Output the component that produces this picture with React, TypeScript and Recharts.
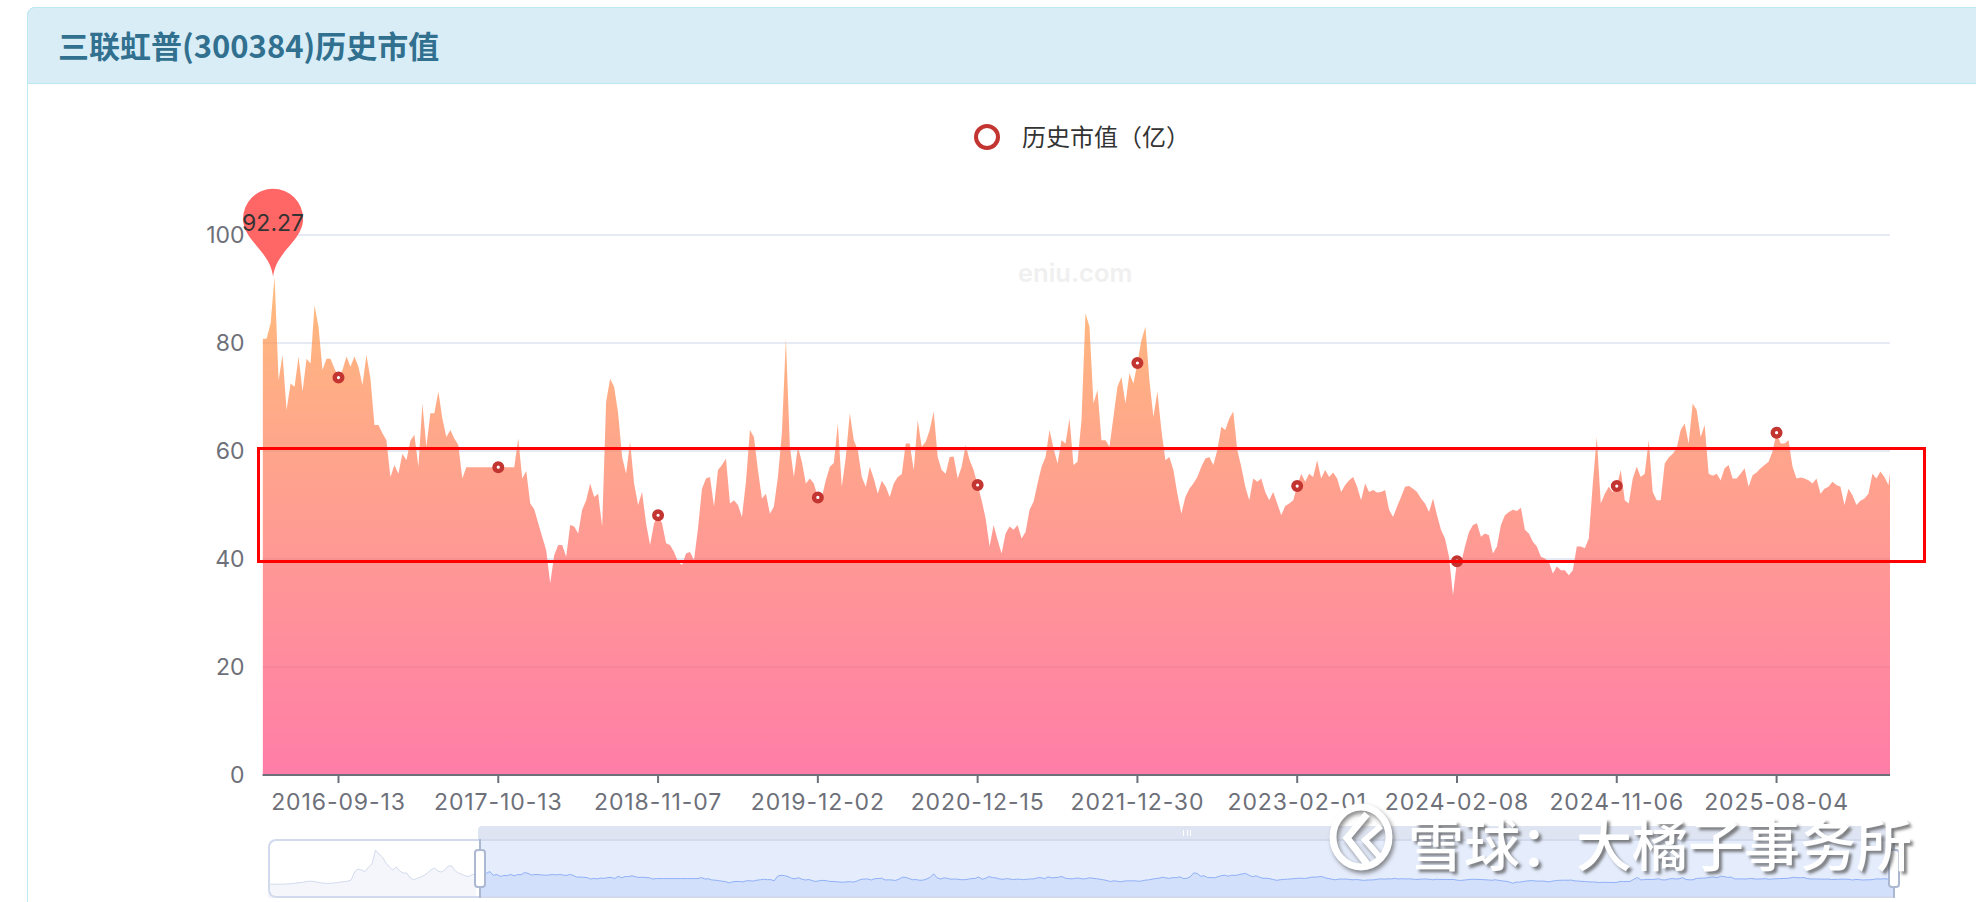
import React from "react";
import { ComposedChart, AreaChart, Area, XAxis, YAxis, CartesianGrid, ReferenceDot } from "recharts";

// tick labels and where they sit in the series
const tickDates = ["2016-09-13", "2017-10-13", "2018-11-07", "2019-12-02", "2020-12-15", "2021-12-30", "2023-02-01", "2024-02-08", "2024-11-06", "2025-08-04"];
const tickIndex = [19, 59, 99, 139, 179, 219, 259, 299, 339, 379];
const yTicks = [0, 20, 40, 60, 80, 100];

const maxIndex = 3;
const maxValue = 92.27;

// 历史市值（亿）
const marketCap = [
  80.8, 80.8, 83.6, 92.27, 73.1, 77.8, 67.6, 72.5, 71.9, 77.5, 71, 77.1, 76.2, 87, 83, 75, 77.1, 77.1, 75.3, 73.6,
  75, 77.5, 75.6, 77.5, 75.6, 72.2, 77.8, 73.4, 64.8, 64.8, 63.3, 62, 55.2, 57.4, 55.8, 59.5, 58.3, 61.9, 63, 57.1,
  68.8, 60.8, 67, 67, 71, 66, 62.6, 63.9, 62.3, 61.1, 54.9, 57, 57, 57, 57, 57, 57, 57, 57, 57,
  57, 57, 57, 57, 62.3, 54.9, 56.3, 50.3, 49.2, 46.6, 44.1, 41.6, 35.5, 40.7, 42.6, 42.6, 40.4, 46.3, 46, 44.7,
  49.1, 50.9, 54, 51.5, 52.1, 46, 69.1, 73.4, 71.9, 67, 58.9, 55.8, 61.7, 54, 50, 52.4, 46.6, 42.6, 46.6, 48.1,
  46.6, 42.9, 42.6, 41.3, 39.5, 38.9, 41, 41.3, 39.8, 45.7, 53, 54.9, 55.2, 49.7, 56.5, 57.4, 58.6, 50.3, 50.9, 50,
  47.8, 54.3, 63.9, 62.6, 56.5, 51.2, 52.1, 48.4, 49.7, 55.2, 63.3, 80.8, 60.8, 55.2, 60.8, 58, 54, 54.9, 54, 51.4,
  51.5, 54.6, 57.1, 57.8, 65.1, 53.4, 58.9, 67, 62, 60.2, 55.2, 53.4, 57.1, 54.9, 52.1, 54.5, 53.4, 51.5, 54, 55.2,
  55.7, 61.4, 61.4, 56.5, 65.7, 60.8, 61.7, 63.9, 67.3, 58.9, 56.5, 55.8, 58.9, 59, 54.9, 57.1, 61.1, 58.3, 56.5, 53.7,
  50.9, 47.5, 42.3, 46.3, 43.5, 41, 44.7, 46, 45.4, 46.3, 43.8, 45, 49.1, 50.6, 54, 57.1, 58.9, 63.9, 60.5, 57.7,
  62, 61.4, 66, 57.4, 58, 65.7, 85.5, 83, 68.8, 71.3, 62, 62, 60.8, 66.3, 71.9, 73.7, 68.8, 74.4, 72.5, 76.3,
  80.5, 83, 73.1, 66.3, 71, 63.9, 58.3, 58.9, 56.5, 52.1, 48.4, 51.5, 53, 54, 55.2, 57.1, 58.6, 58.9, 57.4, 60.2,
  64.5, 63.9, 66, 67.3, 60.2, 57.1, 53.4, 50.9, 54.9, 54.3, 54.9, 52.4, 50.9, 52.4, 50.3, 48.1, 49.8, 50.3, 50.9, 53.5,
  55.8, 54.3, 55.8, 55.2, 58.3, 54.9, 56.5, 55.2, 56, 54.9, 52.4, 53.7, 54.6, 55.2, 53.4, 50.9, 54, 52.4, 52.8, 52.3,
  52.4, 52.8, 49.1, 47.8, 49.7, 51.5, 53.4, 53.5, 53, 52.4, 51.2, 50.3, 48.7, 51.2, 48.1, 45.4, 43.8, 40.4, 33.3, 39.6,
  39.2, 42.3, 45, 46.3, 46.6, 44.1, 44.7, 44.4, 41, 42.3, 46.3, 48.1, 48.7, 49.1, 48.9, 49.5, 45.4, 44.7, 43.2, 42.3,
  40.4, 40.1, 39.5, 37.3, 38.6, 37.9, 37.9, 37, 37.9, 42.3, 42.3, 42, 43.8, 54, 62.6, 50.3, 52.1, 53.4, 52.4, 53.5,
  56.5, 50.9, 50.3, 54.9, 57.1, 55.2, 55.8, 62, 52.4, 50.9, 50.9, 57.7, 58.8, 59.5, 60.5, 63.9, 65.1, 61.4, 68.8, 67.6,
  62.6, 64.8, 55.8, 55.4, 55.8, 54.6, 56.8, 57.4, 54.9, 54.9, 55.8, 56.8, 53.4, 55.5, 56, 56.8, 57.4, 58, 59.9, 63.4,
  61.4, 61.4, 62, 57.1, 54.9, 55.1, 54.9, 54.6, 54, 54.9, 52.1, 53, 53.4, 54.3, 53.7, 53.4, 50, 53, 51.8, 50,
  50.8, 51.2, 52.1, 55.8, 54.9, 56.2, 55.2, 53.7, 59.2,
];

// the part of the data-zoom preview left of the selected window
const previewEarly = [
  30, 30, 29, 29, 29, 30, 31, 32, 34, 37, 38, 42, 44, 43, 40, 36, 34, 33, 33, 35, 37, 40, 42, 44, 50,
  92, 105, 100, 92, 115, 130, 200, 180, 165, 135, 115, 100, 115, 95, 85, 85, 60, 52, 58, 65, 72, 85, 100, 110, 95,
  90, 100, 120, 120, 95, 85, 78, 70, 68, 78, 75,
];

const chartData = marketCap.map((cap, i) => ({ i, cap }));

const previewData = [
  ...previewEarly.map((early, i) => ({ t: i, early })),
  ...marketCap.map((cap, i) => ({ t: previewEarly.length + i, cap })),
];

const CJK = '"Noto Sans CJK SC", sans-serif';
const LATIN = 'Inter, "Noto Sans", sans-serif';
const AXIS = "#6e7079";

const abs = (left: number, top: number, width: number, height: number): React.CSSProperties => ({
  position: "absolute", left, top, width, height, boxSizing: "border-box",
});

const MonthDot = (props: any) => {
  const { cx, cy, index } = props;
  if (!tickIndex.includes(index)) return <g key={index} />;
  return <circle key={index} cx={cx} cy={cy} r={3.8} fill="#fff" stroke="#c23531" strokeWidth={4.4} />;
};

const Pin = ({ cx: tipX, cy }: any) => {
  const cx = tipX - 1.5;
  return (
    <g>
      <path
        d={`M${cx} ${cy} C${cx - 3} ${cy - 26} ${cx - 30} ${cy - 36} ${cx - 30} ${cy - 58} A30 30 0 1 1 ${cx + 30} ${cy - 58} C${cx + 30} ${cy - 36} ${cx + 3} ${cy - 26} ${cx} ${cy} Z`}
        fill="#ff6666"
      />
      <text x={cx} y={cy - 46} textAnchor="middle" fontSize={23} fontFamily={LATIN} fill="#333">
        {maxValue}
      </text>
    </g>
  );
};

const Handle = ({ x }: { x: number }) => (
  <>
    <div style={{ ...abs(x - 1, 839, 2, 59), background: "#acb8d1" }} />
    <div style={{ ...abs(x - 6, 849, 12, 39), background: "#fff", border: "2px solid #acb8d1", borderRadius: 4 }} />
  </>
);

export default function App() {
  return (
    <div style={{ ...abs(0, 0, 1976, 902), overflow: "hidden", background: "#fff" }}>
      {/* panel */}
      <div style={{ ...abs(27, 7, 2000, 960), border: "1.5px solid #bce8f1", borderRadius: 8 }} />
      <div style={{ ...abs(27, 7, 2000, 77), background: "#d9edf7", border: "1.5px solid #bce8f1", borderRadius: "8px 8px 0 0" }} />
      <div style={{ position: "absolute", left: 58, top: 22, fontFamily: CJK, fontWeight: 700, fontSize: 31, lineHeight: "46px", color: "#31708f", whiteSpace: "nowrap" }}>
        三联虹普(300384)历史市值
      </div>

      {/* legend */}
      <svg style={abs(972, 122, 30, 30)}>
        <circle cx={15} cy={15} r={11} fill="#fff" stroke="#c23531" strokeWidth={4} />
      </svg>
      <div style={{ position: "absolute", left: 1022, top: 120, fontFamily: CJK, fontSize: 24, lineHeight: "32px", color: "#333", whiteSpace: "nowrap" }}>
        历史市值（亿）
      </div>

      <div style={{ position: "absolute", left: 1018, top: 258, fontFamily: LATIN, fontWeight: 600, fontSize: 25.5, lineHeight: "30px", color: "#f0f0f0", whiteSpace: "nowrap" }}>
        eniu.com
      </div>

      <div style={abs(0, 0, 1976, 902)}>
        <ComposedChart width={1976} height={902} data={chartData} margin={{ top: 235, right: 86, bottom: 0, left: 0 }}>
          <defs>
            <linearGradient id="capFill" x1="0" y1="0" x2="0" y2="1">
              <stop offset="0%" stopColor="rgb(255,158,68)" />
              <stop offset="100%" stopColor="rgb(255,70,131)" />
            </linearGradient>
          </defs>
          <CartesianGrid horizontal vertical={false} stroke="#dde3f0" strokeWidth={1.5} />
          <XAxis
            dataKey="i"
            type="number"
            domain={[0, 407.4]}
            allowDataOverflow
            ticks={tickIndex}
            tickFormatter={(v: number) => tickDates[tickIndex.indexOf(v)]}
            interval={0}
            height={127}
            tickSize={8}
            tickMargin={11}
            stroke={AXIS}
            strokeWidth={2}
            tick={{ fill: AXIS, fontSize: 23, fontFamily: LATIN, letterSpacing: 0.9 }}
          />
          <YAxis
            width={262.6}
            domain={[0, 100]}
            ticks={yTicks}
            interval={0}
            axisLine={false}
            tickLine={false}
            tickMargin={12}
            tick={{ fill: AXIS, fontSize: 23, fontFamily: LATIN }}
          />
          <Area
            dataKey="cap"
            type="linear"
            stroke="none"
            fill="url(#capFill)"
            fillOpacity={0.7}
            dot={MonthDot}
            activeDot={false}
            isAnimationActive={false}
          />
          <ReferenceDot x={maxIndex} y={maxValue} r={0} shape={Pin} ifOverflow="visible" />
        </ComposedChart>
      </div>

      {/* highlight box */}
      <div style={{ ...abs(257, 447, 1669, 116), border: "3px solid #ff0000" }} />

      {/* data zoom */}
      <div style={{ ...abs(478, 826, 1416, 14), background: "#dee4f1", borderRadius: "4px 4px 0 0" }} />
      <div style={{ ...abs(1183, 830, 8, 6), borderLeft: "1.5px solid #fff", borderRight: "1.5px solid #fff" }} />
      <div style={{ ...abs(1186.5, 830, 1.5, 6), background: "#fff" }} />
      <div style={{ ...abs(480, 839, 1414, 59), background: "#e5edfd" }} />
      <div style={abs(268, 839, 1626, 59)}>
        <AreaChart width={1626} height={59} data={previewData} margin={{ top: 0, right: 0, bottom: 0, left: 0 }}>
          <XAxis dataKey="t" type="number" domain={["dataMin", "dataMax"]} hide />
          <YAxis domain={[-40, 255]} hide />
          <Area dataKey="early" type="linear" stroke="#d2dbee" strokeWidth={1} fill="#f5f6fb" fillOpacity={1} baseValue={-40} connectNulls={false} isAnimationActive={false} />
          <Area dataKey="cap" type="linear" stroke="#8fb0f7" strokeWidth={1} fill="#d3e0fb" fillOpacity={1} baseValue={-40} connectNulls={false} isAnimationActive={false} />
        </AreaChart>
      </div>
      <div style={{ ...abs(268, 839, 1626, 59), border: "2px solid #d2dbee", borderRight: "none", borderRadius: "8px 0 0 8px" }} />
      <Handle x={480} />
      <Handle x={1894} />

      {/* site watermark */}
      <svg style={{ ...abs(1323, 802, 78, 70), filter: "drop-shadow(2px 3px 2px rgba(90,90,90,0.7))" }}>
        <ellipse cx={38} cy={35} rx={28} ry={30} fill="none" stroke="#fff" strokeWidth={7} />
        <path d="M44 12 L24 36 L44 62" fill="none" stroke="#fff" strokeWidth={7} />
        <path d="M58 24 L42 38 L56 54" fill="none" stroke="#fff" strokeWidth={6} />
      </svg>
      <div style={{ position: "absolute", left: 1408, top: 814, fontFamily: CJK, fontWeight: 500, fontSize: 56, lineHeight: "56px", color: "#fff", whiteSpace: "nowrap", textShadow: "3px 3px 3px rgba(90,90,90,0.75)" }}>
        雪球：大橘子事务所
      </div>
    </div>
  );
}
